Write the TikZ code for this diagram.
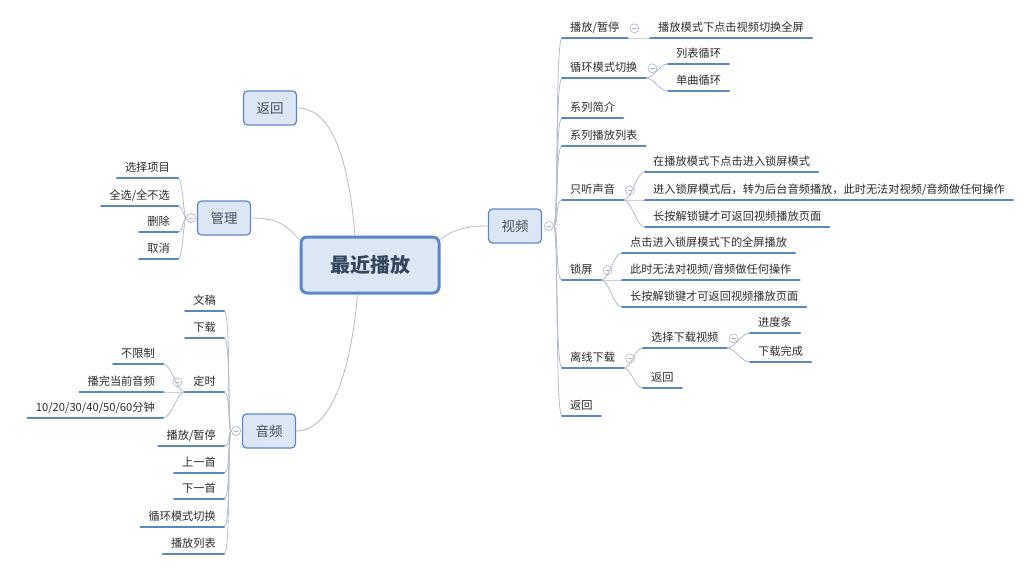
\documentclass[tikz,border=0pt]{standalone}
\usepackage{fontspec}
\setmainfont{Noto Sans CJK SC}
\usetikzlibrary{positioning}

\definecolor{nodef}{HTML}{DCE6F4}
\definecolor{nodeb}{HTML}{5B87C5}
\definecolor{linkc}{HTML}{B3BCC8}
\definecolor{foldc}{HTML}{A9B4C4}
\definecolor{leaftxt}{HTML}{2B2B2B}
\definecolor{brtxt}{HTML}{4A4F58}
\definecolor{roottxt}{HTML}{34475F}

\tikzset{
  root/.style={draw=nodeb, fill=nodef, line width=3pt, rounded corners=6pt,
    minimum width=138pt, minimum height=56pt, text=roottxt,
    font=\fontsize{20}{24}\selectfont\bfseries},
  branch/.style={draw=nodeb, fill=nodef, line width=1.2pt, rounded corners=4pt,
    minimum width=53pt, minimum height=34pt, text=brtxt,
    font=\fontsize{13.5}{16}\selectfont},
  leaf/.style={inner xsep=8pt, inner ysep=4pt, text height=9pt, text depth=2pt,
    text=leaftxt, font=\fontsize{11.2}{13}\selectfont},
  uline/.style={draw=nodeb, line width=2pt},
  link/.style={draw=linkc, line width=0.8pt},
  fold/.style={circle, draw=foldc, fill=white, line width=0.6pt, minimum size=9pt, inner sep=0pt,
    path picture={\draw[foldc, line width=0.6pt]
      ([xshift=-2pt]path picture bounding box.center) -- ([xshift=2pt]path picture bounding box.center);}},
}

\begin{document}
\begin{tikzpicture}[x=1pt, y=-1pt, line cap=round]
  %% ════ 中心 + 一级分支 ════
  \node[root] (root) at (370,265) {最近播放};
  \node[branch] (back)  at (270,108) {返回};
  \node[branch] (mgr)   at (224,218) {管理};
  \node[branch] (audio) at (269,431) {音频};
  \node[branch] (video) at (515,226) {视频};

  \node[fold, left=1pt of mgr]    (mgrF)   {};
  \node[fold, left=1pt of audio]  (audioF) {};
  \node[fold, right=2pt of video] (videoF) {};

  \draw[link] (back.east)  .. controls +(40,0) and +(-5,-60) .. (root.117);
  \draw[link] (mgr.east)   .. controls +(28,0) and +(-14,-14) .. (root.160);
  \draw[link] (audio.east) .. controls +(40,0) and +(-5,60) .. (root.247);
  \draw[link] (root.20)    .. controls +(15,-12) and +(-15,0) .. (video.west);

  %% ════ 管理（左侧，锚点 = 下划线右端）════
  \node[leaf, anchor=south east] (mSel) at (178,178) {选择项目};
  \node[leaf, anchor=south east] (mAll) at (178,206) {全选/全不选};
  \node[leaf, anchor=south east] (mDel) at (178,232) {删除};
  \node[leaf, anchor=south east] (mCan) at (178,259) {取消};
  \foreach \n in {mSel,mAll,mDel,mCan}
    \draw[link] (mgrF.west) .. controls +(-3,0) and +(5,0) .. (\n.south east);

  %% ════ 音频 ════
  \node[leaf, anchor=south east] (aText)  at (224,311) {文稿};
  \node[leaf, anchor=south east] (aDown)  at (224,338) {下载};
  \node[leaf, anchor=south east] (aTimer) at (224,392) {定时};
  \node[leaf, anchor=south east] (aPlay)  at (224,446) {播放/暂停};
  \node[leaf, anchor=south east] (aPrev)  at (224,473) {上一首};
  \node[leaf, anchor=south east] (aNext)  at (224,499) {下一首};
  \node[leaf, anchor=south east] (aLoop)  at (224,527) {循环模式切换};
  \node[leaf, anchor=south east] (aList)  at (224,554) {播放列表};
  \foreach \n in {aText,aDown,aTimer,aPlay,aPrev,aNext,aLoop,aList}
    \draw[link] (audioF.west) .. controls +(-4,0) and +(7,0) .. (\n.south east);

  \node[fold, left=3pt of aTimer] (aTimerF) {};
  \node[leaf, anchor=south east] (tNone) at (163,364) {不限制};
  \node[leaf, anchor=south east] (tCur)  at (163,392) {播完当前音频};
  \node[leaf, anchor=south east] (tMin)  at (163,418) {10/20/30/40/50/60分钟};
  \foreach \n in {tNone,tCur,tMin}
    \draw[link] (aTimer.south west) .. controls +(-9,0) and +(9,0) .. (\n.south east);

  %% ════ 视频（右侧，锚点 = 下划线左端）════
  \node[leaf, anchor=south west] (vPlay)  at (562,38)  {播放/暂停};
  \node[leaf, anchor=south west] (vLoop)  at (562,78)  {循环模式切换};
  \node[leaf, anchor=south west] (vIntro) at (562,118) {系列简介};
  \node[leaf, anchor=south west] (vList)  at (562,146) {系列播放列表};
  \node[leaf, anchor=south west] (vAudio) at (562,200) {只听声音};
  \node[leaf, anchor=south west] (vLock)  at (562,280) {锁屏};
  \node[leaf, anchor=south west] (vDown)  at (562,368) {离线下载};
  \node[leaf, anchor=south west] (vBack)  at (562,416) {返回};
  \foreach \n in {vPlay,vLoop,vIntro,vList,vAudio,vLock,vDown,vBack}
    \draw[link] (videoF.east) .. controls +(5,0) and +(-7,0) .. (\n.south west);

  \node[fold, right=2pt of vPlay]  (vPlayF)  {};
  \node[fold, right=2pt of vLoop]  (vLoopF)  {};
  \node[fold, right=2pt of vAudio] (vAudioF) {};
  \node[fold, right=2pt of vLock]  (vLockF)  {};
  \node[fold, right=2pt of vDown]  (vDownF)  {};

  \node[leaf, anchor=south west] (vPlayA) at (650,38)  {播放模式下点击视频切换全屏};
  \node[leaf, anchor=south west] (vLoopA) at (668,64)  {列表循环};
  \node[leaf, anchor=south west] (vLoopB) at (668,91)  {单曲循环};
  \node[leaf, anchor=south west] (vAudA)  at (645,172) {在播放模式下点击进入锁屏模式};
  \node[leaf, anchor=south west] (vAudB)  at (645,200) {进入锁屏模式后，转为后台音频播放，此时无法对视频/音频做任何操作};
  \node[leaf, anchor=south west] (vAudC)  at (645,227) {长按解锁键才可返回视频播放页面};
  \node[leaf, anchor=south west] (vLockA) at (622,253) {点击进入锁屏模式下的全屏播放};
  \node[leaf, anchor=south west] (vLockB) at (622,280) {此时无法对视频/音频做任何操作};
  \node[leaf, anchor=south west] (vLockC) at (622,307) {长按解锁键才可返回视频播放页面};
  \node[leaf, anchor=south west] (vDownA) at (643,348) {选择下载视频};
  \node[leaf, anchor=south west] (vDownB) at (643,388) {返回};
  \node[fold, right=2pt of vDownA] (vDownAF) {};
  \node[leaf, anchor=south west] (vDownA1) at (750,333) {进度条};
  \node[leaf, anchor=south west] (vDownA2) at (750,362) {下载完成};

  \foreach \p/\c in {vPlay/vPlayA, vLoop/vLoopA, vLoop/vLoopB, vAudio/vAudA, vAudio/vAudB, vAudio/vAudC,
      vLock/vLockA, vLock/vLockB, vLock/vLockC, vDown/vDownA, vDown/vDownB, vDownA/vDownA1, vDownA/vDownA2}
    \draw[link] (\p.south east) .. controls +(9,0) and +(-9,0) .. (\c.south west);

  %% ════ 下划线（最后画，压在连线上面）════
  \foreach \n in {mSel,mAll,mDel,mCan,aText,aDown,aTimer,aPlay,aPrev,aNext,aLoop,aList,tNone,tCur,tMin}
    \draw[uline] (\n.south west) -- (\n.south east);
  \foreach \n in {vPlay,vLoop,vIntro,vList,vAudio,vLock,vDown,vBack,vPlayA,vLoopA,vLoopB,
      vAudA,vAudB,vAudC,vLockA,vLockB,vLockC,vDownA,vDownB,vDownA1,vDownA2}
    \draw[uline] (\n.south west) -- (\n.south east);

  % 钉死画布
  \pgfresetboundingbox
  \path[use as bounding box] (0,0) rectangle (1024,568);
\end{tikzpicture}
\end{document}
